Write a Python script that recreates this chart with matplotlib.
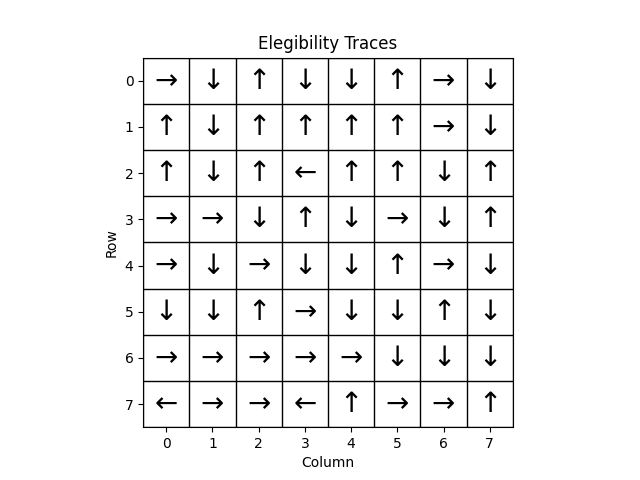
import numpy as np
import matplotlib.pyplot as plt

# best action per cell (row 0 at top)
arrows = [
    ["→", "↓", "↑", "↓", "↓", "↑", "→", "↓"],
    ["↑", "↓", "↑", "↑", "↑", "↑", "→", "↓"],
    ["↑", "↓", "↑", "←", "↑", "↑", "↓", "↑"],
    ["→", "→", "↓", "↑", "↓", "→", "↓", "↑"],
    ["→", "↓", "→", "↓", "↓", "↑", "→", "↓"],
    ["↓", "↓", "↑", "→", "↓", "↓", "↑", "↓"],
    ["→", "→", "→", "→", "→", "↓", "↓", "↓"],
    ["←", "→", "→", "←", "↑", "→", "→", "↑"],
]
n_rows = len(arrows)
n_cols = len(arrows[0])

fig, ax = plt.subplots(figsize=(6.4, 4.8), dpi=100)

for r in range(n_rows):
    for c in range(n_cols):
        ax.text(c, r, arrows[r][c], ha="center", va="center", fontsize=20)

ax.set_xlim(-0.5, n_cols - 0.5)
ax.set_ylim(n_rows - 0.5, -0.5)
ax.set_aspect("equal")

ax.set_xticks(np.arange(n_cols))
ax.set_yticks(np.arange(n_rows))
ax.set_xticks(np.arange(-0.5, n_cols, 1), minor=True)
ax.set_yticks(np.arange(-0.5, n_rows, 1), minor=True)
ax.grid(which="minor", color="black", linewidth=1)
ax.tick_params(which="minor", length=0)

ax.set_xlabel("Column")
ax.set_ylabel("Row")
ax.set_title("Elegibility Traces")

fig.savefig("out.png")
